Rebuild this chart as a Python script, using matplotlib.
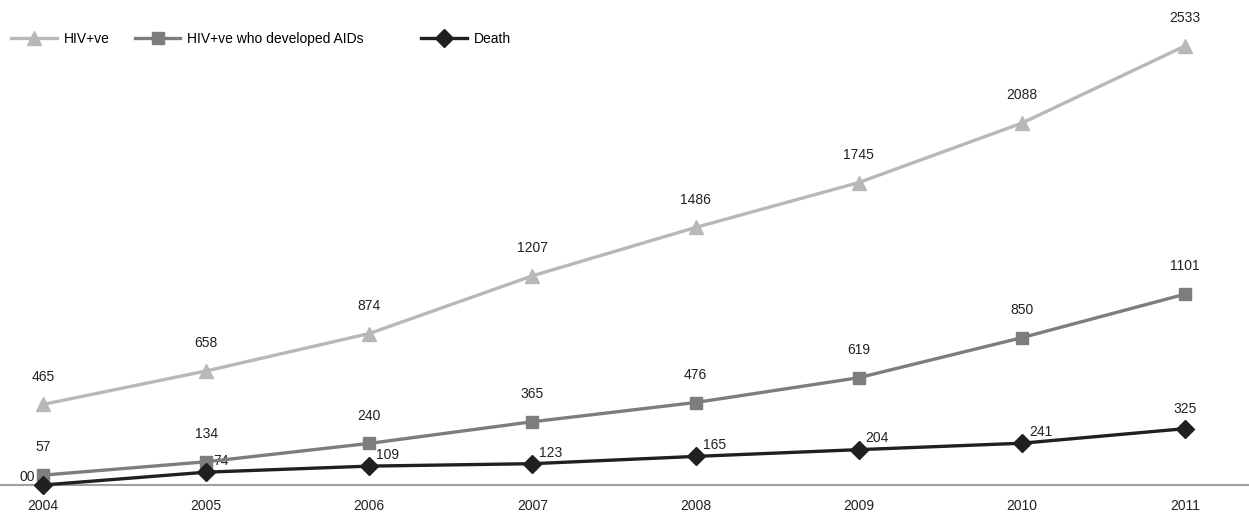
import matplotlib.pyplot as plt

plt.rcParams['font.family'] = ['Liberation Sans', 'DejaVu Sans']

years = [2004, 2005, 2006, 2007, 2008, 2009, 2010, 2011]
hiv_pos = [465, 658, 874, 1207, 1486, 1745, 2088, 2533]
hiv_aids = [57, 134, 240, 365, 476, 619, 850, 1101]
deaths = [0, 74, 109, 123, 165, 204, 241, 325]
death_text = ['00', '74', '109', '123', '165', '204', '241', '325']

W, H = 1249, 519
fig = plt.figure(figsize=(W / 100, H / 100), dpi=100)
ax = fig.add_axes([0, 34 / H, 1, 439 / H])

c_hiv = '#b8b8b8'
c_aids = '#7d7d7d'
c_death = '#202020'

l1, = ax.plot(years, hiv_pos, color=c_hiv, lw=2.4, marker='^', ms=10,
              label='HIV+ve', clip_on=False, zorder=3)
l2, = ax.plot(years, hiv_aids, color=c_aids, lw=2.4, marker='s', ms=9,
              label='HIV+ve who developed AIDs', clip_on=False, zorder=4)
l3, = ax.plot(years, deaths, color=c_death, lw=2.4, marker='D', ms=9,
              label='Death', clip_on=False, zorder=5)

# value labels
for x, v in zip(years, hiv_pos):
    ax.annotate(str(v), (x, v), xytext=(0, 15), textcoords='offset points',
                ha='center', va='bottom', fontsize=10, color='#222')
for x, v in zip(years, hiv_aids):
    ax.annotate(str(v), (x, v), xytext=(0, 15), textcoords='offset points',
                ha='center', va='bottom', fontsize=10, color='#222')
for i, (x, v) in enumerate(zip(years, deaths)):
    if i == 0:
        xy, ha = (-6, 1), 'right'
    elif i == len(years) - 1:
        xy, ha = (0, 9), 'center'
    else:
        xy, ha = (5, 3), 'left'
    ax.annotate(death_text[i], (x, v), xytext=xy, textcoords='offset points',
                ha=ha, va='bottom', fontsize=10, color='#222')

ax.set_xlim(2004 - 43 / 163, 2011 + 64 / 163)
ax.set_ylim(0, 2533)
ax.set_xticks(years)
ax.set_xticklabels([str(y) for y in years], fontsize=10, color='#222')
ax.tick_params(axis='x', length=0, pad=10)
ax.set_yticks([])
for s in ['top', 'right', 'left']:
    ax.spines[s].set_visible(False)
ax.spines['bottom'].set_color('#a0a0a0')
ax.spines['bottom'].set_linewidth(1.5)
ax.patch.set_visible(False)

# legend: first two entries together, "Death" set further to the right
leg_y = 1 - 39 / H
opts = dict(frameon=False, fontsize=10, handlelength=3.3,
            handletextpad=0.5, borderaxespad=0, borderpad=0)
fig.legend(handles=[l1, l2], loc='center left', ncol=2,
           bbox_to_anchor=(11 / W, leg_y), columnspacing=1.8, **opts)
fig.legend(handles=[l3], loc='center left',
           bbox_to_anchor=(421 / W, leg_y), **opts)

fig.savefig('out.png', dpi=100)
